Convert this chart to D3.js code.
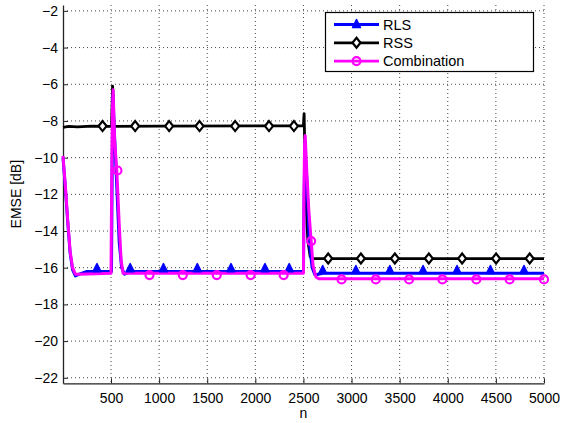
<!DOCTYPE html>
<html><head><meta charset="utf-8">
<script src="https://cdn.jsdelivr.net/npm/d3@7"></script>
<style>
html,body{margin:0;padding:0;background:#fff;}
svg text{font-family:"Liberation Sans",Arial,Helvetica,sans-serif;fill:#000;}
</style></head>
<body><svg id="c" width="570" height="423"></svg>
<script>
// ---- data ----
const xTicks = [500,1000,1500,2000,2500,3000,3500,4000,4500,5000];
const yTicks = [-2,-4,-6,-8,-10,-12,-14,-16,-18,-20,-22];
const seriesNames = ["RLS","RSS","Combination"];

const rlsN = [1,25,50,75,100,130,170,250,505,512,520,535,560,585,610,640,700,2500,2506,2515,2535,2560,2590,2620,2700,5000];
const rlsV = [-10.0,-11.6,-13.5,-15.2,-16.1,-16.45,-16.35,-16.2,-16.2,-10.5,-6.6,-8.6,-11.6,-14.6,-16.0,-16.35,-16.2,-16.2,-12.5,-9.4,-11.2,-14.6,-16.0,-16.4,-16.3,-16.3];

const rssN = [1,60,150,300,505,512,516,522,530,1000,2000,2500,2503,2507,2512,2525,2545,2570,2600,3500,5000];
const rssV = [-8.35,-8.3,-8.32,-8.28,-8.3,-7.0,-6.1,-6.6,-8.3,-8.28,-8.27,-8.25,-7.9,-7.6,-9.0,-12.0,-14.5,-15.4,-15.5,-15.5,-15.5];

const combN = [1,25,50,75,100,130,170,500,506,514,522,537,560,585,605,625,700,2500,2505,2512,2518,2535,2555,2580,2600,2630,2660,5000];
const combV = [-9.9,-11.5,-13.4,-15.1,-16.0,-16.35,-16.35,-16.3,-12.0,-7.5,-6.3,-9.0,-10.7,-13.6,-15.6,-16.3,-16.3,-16.3,-12.0,-9.2,-8.8,-10.8,-12.8,-14.55,-15.9,-16.5,-16.6,-16.6];

const rlsMarkN = [354,699,1045,1397,1747,2100,2352,2700,3045,3398,3743,4096,4443,4792];
const rlsMarkV = [-16.05,-16.05,-16.05,-16.05,-16.05,-16.05,-16.05,-16.15,-16.15,-16.15,-16.15,-16.15,-16.15,-16.15];
const rssMarkN = [412,751,1104,1420,1790,2142,2401,2757,3097,3450,3803,4149,4502,4851];
const rssMarkV = [-8.28,-8.28,-8.28,-8.28,-8.28,-8.28,-8.28,-15.5,-15.5,-15.5,-15.5,-15.5,-15.5,-15.5];
const combMarkN = [567,900,1246,1599,1951,2294,2580,2896,3252,3598,3944,4297,4643,5000];
const combMarkV = [-10.7,-16.4,-16.4,-16.4,-16.4,-16.4,-14.55,-16.64,-16.64,-16.64,-16.64,-16.64,-16.64,-16.64];

// ---- layout ----
const L = 63, R = 544, T = 5, B = 383.3;
const x = d3.scaleLinear().domain([1,5000]).range([L,R]);
const y = d3.scaleLinear().domain([-22.3,-1.68]).range([B,T]);
const svg = d3.select("#c");

// grid
const g = svg.append("g");
g.selectAll(".vg").data(xTicks).enter().append("line")
  .attr("x1",d=>x(d)).attr("x2",d=>x(d)).attr("y1",T).attr("y2",B)
  .attr("stroke","#444").attr("stroke-width",1).attr("stroke-dasharray","1,3");
g.selectAll(".hg").data(yTicks).enter().append("line")
  .attr("x1",L).attr("x2",R).attr("y1",d=>y(d)).attr("y2",d=>y(d))
  .attr("stroke","#444").attr("stroke-width",1).attr("stroke-dasharray","1,3");

// axes
const xAxis = d3.axisBottom(x).tickValues(xTicks).tickSizeInner(-5).tickSizeOuter(0).tickPadding(10).tickFormat(d3.format("d"));
const yAxis = d3.axisLeft(y).tickValues(yTicks).tickSizeInner(-5).tickSizeOuter(0).tickPadding(5).tickFormat(d=>d3.format("d")(d).replace("-","\u2212"));
const ax = svg.append("g").attr("transform",`translate(0,${B})`).call(xAxis);
const ay = svg.append("g").attr("transform",`translate(${L},0)`).call(yAxis);
[ax,ay].forEach(a=>{
  a.select(".domain").attr("stroke","#222").attr("stroke-width",1.3);
  a.selectAll(".tick line").attr("stroke","#222");
  a.selectAll("text").attr("font-size",14).attr("font-family","Liberation Sans, Arial, sans-serif").attr("fill","#000");
});

// lines
const line = d3.line().x(d=>x(d[0])).y(d=>y(d[1]));
const zip = (a,b)=>a.map((v,i)=>[v,b[i]]);
const plot = svg.append("g");
plot.append("path").datum(zip(rssN,rssV)).attr("d",line).attr("fill","none").attr("stroke","#000").attr("stroke-width",2.8).attr("stroke-linejoin","round");
plot.append("path").datum(zip(rlsN,rlsV)).attr("d",line).attr("fill","none").attr("stroke","#0000ff").attr("stroke-width",3).attr("stroke-linejoin","round");
plot.append("path").datum(zip(combN,combV)).attr("d",line).attr("fill","none").attr("stroke","#ff00ff").attr("stroke-width",3).attr("stroke-linejoin","round");

function tri(g,cx,cy){g.append("path").attr("d",`M${cx},${cy-5}L${cx+4},${cy+3}L${cx-4},${cy+3}Z`).attr("fill","#0000ff").attr("stroke","#0000ff").attr("stroke-width",1.5).attr("stroke-linejoin","round");}
function dia(g,cx,cy){g.append("path").attr("d",`M${cx},${cy-5}L${cx+4},${cy}L${cx},${cy+5}L${cx-4},${cy}Z`).attr("fill","#fff").attr("stroke","#000").attr("stroke-width",2.2);}
function circ(g,cx,cy){g.append("circle").attr("cx",cx).attr("cy",cy).attr("r",4).attr("fill","none").attr("stroke","#ff00ff").attr("stroke-width",2.2);}

rssMarkN.forEach((n,i)=>dia(plot,x(n),y(rssMarkV[i])));
rlsMarkN.forEach((n,i)=>tri(plot,x(n),y(rlsMarkV[i])));
combMarkN.forEach((n,i)=>circ(plot,x(n),y(combMarkV[i])));

// labels
svg.append("text").attr("x",x(2500)).attr("y",418).attr("text-anchor","middle").attr("font-size",14).text("n");
svg.append("text").attr("transform",`translate(21,${(T+B)/2}) rotate(-90)`).attr("text-anchor","middle").attr("font-size",14).text("EMSE [dB]");

// legend
const lg = svg.append("g");
lg.append("rect").attr("x",325.5).attr("y",12.5).attr("width",208).attr("height",59).attr("fill","#fff").attr("stroke","#000").attr("stroke-width",1.2);
const colors = ["#0000ff","#000","#ff00ff"];
const marks = [tri,dia,circ];
seriesNames.forEach((nm,i)=>{
  const yy = 24.5 + i*18.3;
  lg.append("line").attr("x1",334).attr("x2",379).attr("y1",yy).attr("y2",yy).attr("stroke",colors[i]).attr("stroke-width",2.8);
  marks[i](lg,356.5,yy);
  lg.append("text").attr("x",383).attr("y",yy+5).attr("font-size",14.5).text(nm);
});
</script></body></html>
